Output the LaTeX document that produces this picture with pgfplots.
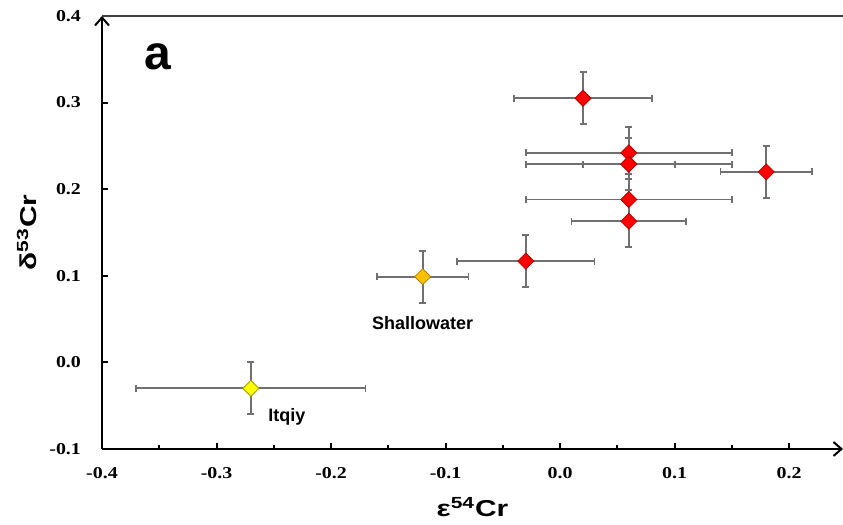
\documentclass[border=0pt]{standalone}
\usepackage{pgfplots}
\pgfplotsset{compat=1.18}
\usepackage{pgfplotstable}
\usepackage{fontspec}
\setmainfont{Liberation Sans}
\newfontfamily\tnr[FakeStretch=1.2]{Liberation Serif}
\newfontfamily\widesans[FakeStretch=1.3]{Liberation Sans}
\usetikzlibrary{arrows.meta,calc}
\definecolor{ebar}{HTML}{707070}
\definecolor{redfill}{HTML}{FF0000}
\definecolor{rededge}{HTML}{B00000}
\definecolor{orfill}{HTML}{FFC000}
\definecolor{oredge}{HTML}{B08000}
\definecolor{yefill}{HTML}{FFFF00}
\definecolor{yeedge}{HTML}{A0A000}

\pgfplotstableread{
x     y      ex    ey
0.02  0.305  0.06  0.03
0.06  0.242  0.09  0.03
0.06  0.229  0.04  0.03
0.06  0.229  0.09  0.03
0.18  0.220  0.04  0.03
0.06  0.188  0.09  0.03
0.06  0.163  0.05  0.03
-0.03 0.117  0.06  0.03
}\redpts
\pgfplotstableread{
x     y      ex    ey
-0.12 0.099  0.04  0.03
}\shallow
\pgfplotstableread{
x     y      ex    ey
-0.27 -0.030 0.10  0.03
}\itqiy

\begin{document}
\begin{tikzpicture}
\begin{axis}[
  scale only axis,
  width=370.5pt, height=216.5pt,
  xmin=-0.4, xmax=0.247, ymin=-0.1, ymax=0.4,
  axis x line=bottom, axis y line=left,
  axis line style={line width=1pt, black, -{Straight Barb[length=4pt,width=7pt,line width=1pt]}},
  xtick={-0.4,-0.3,-0.2,-0.1,0,0.1,0.2},
  xticklabels={-0.4,-0.3,-0.2,-0.1,0.0,0.1,0.2},
  ytick={-0.1,0,0.1,0.2,0.3,0.4},
  yticklabels={-0.1,0.0,0.1,0.2,0.3,0.4},
  minor x tick num=1,
  tick align=inside,
  major tick length=3pt, minor tick length=2pt,
  tick style={line width=1pt, black},
  xticklabel style={font=\tnr\bfseries\fontsize{8.3}{9}\selectfont, yshift=-5.5pt},
  yticklabel style={font=\tnr\bfseries\fontsize{8.3}{9}\selectfont, xshift=-7pt},
  xlabel={ε\textsuperscript{54}Cr},
  ylabel={δ\textsuperscript{53}Cr},
  xlabel style={font=\widesans\bfseries\fontsize{11.5}{13}\selectfont, at={(axis description cs:0.5,0)}, anchor=center, yshift=-29pt},
  ylabel style={font=\widesans\bfseries\fontsize{11.5}{13}\selectfont, at={(axis description cs:0,0.5)}, anchor=center, yshift=37.5pt},
  clip=false,
  error bars/error bar style={ebar, line width=0.9pt},
  error bars/error mark options={ebar, line width=0.9pt, mark size=1.75pt, rotate=90},
]
\coordinate (sw) at (rel axis cs:0,0);
\coordinate (ne) at (rel axis cs:1,1);
\draw[line width=1pt, black!75] (axis cs:-0.4,0.4) -- (axis cs:0.247,0.4);

\addplot[only marks, mark=square*, mark size=2.83pt,
  mark options={rotate=45, fill=redfill, draw=rededge, line width=0.4pt},
  error bars/.cd, x dir=both, x explicit, y dir=both, y explicit]
  table[x=x, y=y, x error=ex, y error=ey]{\redpts};
\addplot[only marks, mark=square*, mark size=2.83pt,
  mark options={rotate=45, fill=orfill, draw=oredge, line width=0.4pt},
  error bars/.cd, x dir=both, x explicit, y dir=both, y explicit]
  table[x=x, y=y, x error=ex, y error=ey]{\shallow};
\addplot[only marks, mark=square*, mark size=2.83pt,
  mark options={rotate=45, fill=yefill, draw=yeedge, line width=0.4pt},
  error bars/.cd, x dir=both, x explicit, y dir=both, y explicit]
  table[x=x, y=y, x error=ex, y error=ey]{\itqiy};

\node[font=\bfseries\fontsize{9}{10}\selectfont] at (axis cs:-0.12,0.045) {Shallowater};
\node[font=\bfseries\fontsize{9}{10}\selectfont] at (axis cs:-0.2385,-0.063) {Itqiy};
\node[font=\bfseries\fontsize{24}{28}\selectfont] at (axis cs:-0.351,0.353) {a};
\end{axis}
\pgfresetboundingbox
\path ($(sw)+(-51pt,-38pt)$) rectangle ($(ne)+(0pt,8pt)$);
\end{tikzpicture}
\end{document}
